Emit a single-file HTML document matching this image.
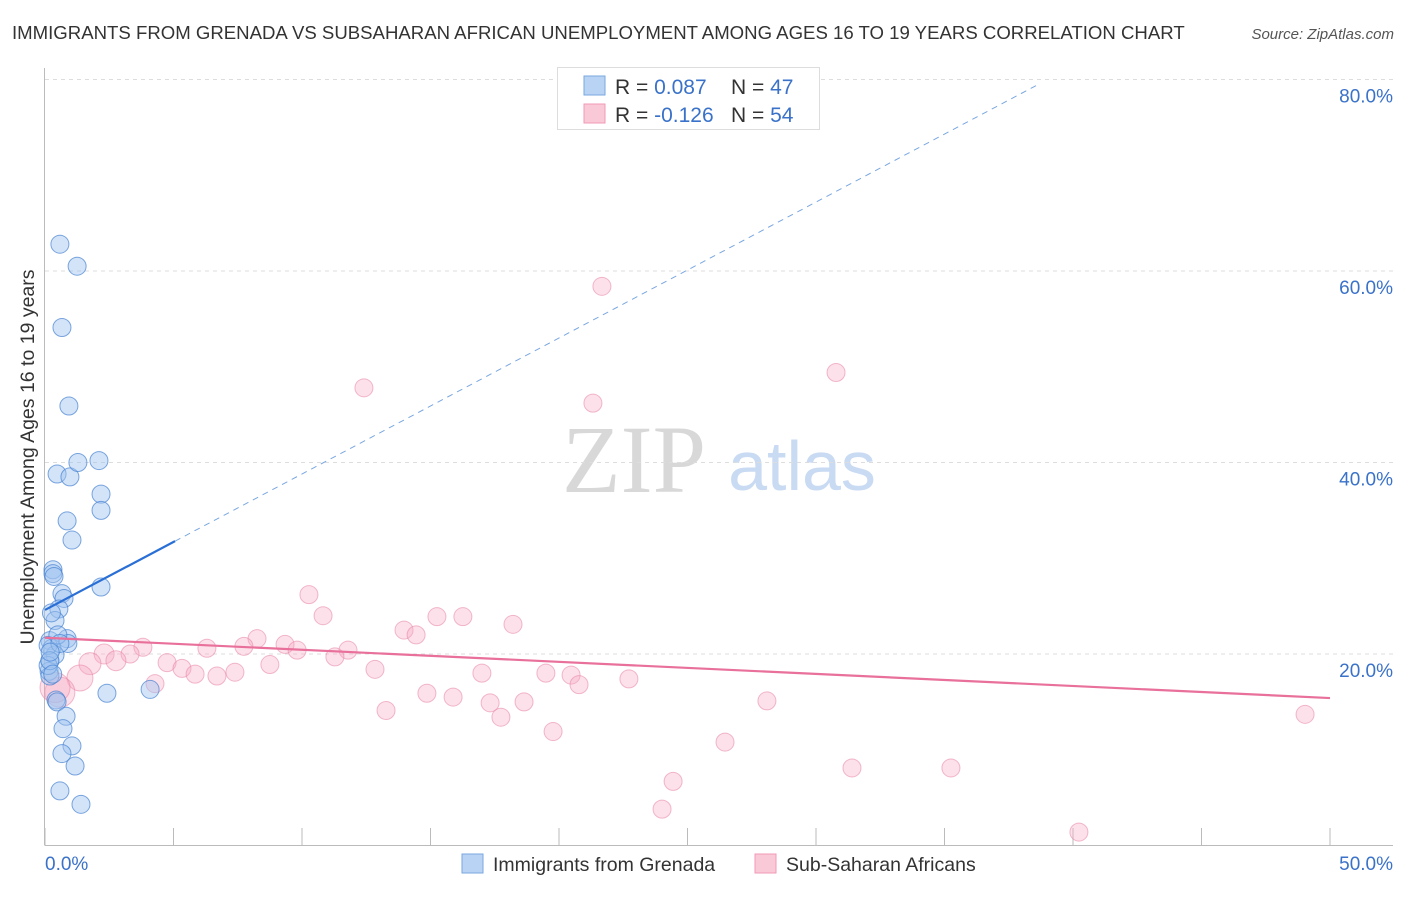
<!DOCTYPE html>
<html><head><meta charset="utf-8"><style>
body{margin:0;background:#fff;font-family:"Liberation Sans",sans-serif;}
svg text{font-family:"Liberation Sans",sans-serif;}
</style></head><body>
<svg id="chart" width="1406" height="892">
<text x="12" y="39" font-size="18.6" fill="#333">IMMIGRANTS FROM GRENADA VS SUBSAHARAN AFRICAN UNEMPLOYMENT AMONG AGES 16 TO 19 YEARS CORRELATION CHART</text>
<text x="1394" y="39" font-size="15" fill="#555" font-style="italic" text-anchor="end">Source: ZipAtlas.com</text>
<text x="634" y="492" font-size="96" fill="#d8d8d8" text-anchor="middle" font-family="Liberation Serif" style="font-family:'Liberation Serif',serif">ZIP</text>
<text x="802" y="490" font-size="70" fill="#c9daf3" text-anchor="middle">atlas</text>
<g id="grid"></g>
<g id="axes"></g>
<g id="marks"></g>
<text transform="translate(34,457) rotate(-90)" font-size="19.5" fill="#333" text-anchor="middle">Unemployment Among Ages 16 to 19 years</text>
<g>
<rect x="557.5" y="67.5" width="262" height="62" fill="#fff" stroke="#ddd"/>
<rect x="584" y="76" width="21" height="19" fill="#b9d3f5" stroke="#7aa7e0"/>
<rect x="584" y="104" width="21" height="19" fill="#fac9d7" stroke="#f09ab4"/>
<text x="615" y="94" font-size="21" fill="#333">R = <tspan fill="#3a72c9">0.087</tspan></text>
<text x="731" y="94" font-size="21" fill="#333">N = <tspan fill="#3a72c9">47</tspan></text>
<text x="615" y="122" font-size="21" fill="#333">R = <tspan fill="#3a72c9">-0.126</tspan></text>
<text x="731" y="122" font-size="21" fill="#333">N = <tspan fill="#3a72c9">54</tspan></text>
</g>
<g>
<rect x="462" y="854" width="21" height="19" fill="#b9d3f5" stroke="#7aa7e0"/>
<text x="493" y="871" font-size="19.5" fill="#333">Immigrants from Grenada</text>
<rect x="755" y="854" width="21" height="19" fill="#fac9d7" stroke="#f09ab4"/>
<text x="786" y="871" font-size="19.5" fill="#333">Sub-Saharan Africans</text>
</g>
</svg>
<script>
const yTicks=[20,40,60,80];
const yTickLabels=["20.0%","40.0%","60.0%","80.0%"];
const xTicks=[0,5,10,15,20,25,30,35,40,45,50];
const blueX=[0.58,1.25,0.66,0.93,0.47,0.97,1.28,2.1,2.18,2.18,0.86,1.05,0.31,0.31,0.35,0.66,0.74,0.54,2.18,0.39,0.86,0.89,0.19,0.27,0.19,0.16,0.19,0.43,0.47,0.82,0.7,1.05,0.66,1.17,0.58,1.4,2.41,4.09,0.39,0.12,0.5,0.58,0.12,0.19,0.3,0.2,0.25];
const blueY=[62.8,60.5,54.1,45.9,38.8,38.5,40.0,40.2,36.7,35.0,33.9,31.9,28.8,28.4,28.1,26.3,25.8,24.7,27.0,23.5,21.6,21.1,21.4,20.6,19.3,18.2,17.7,15.2,15.0,13.5,12.2,10.4,9.6,8.3,5.7,4.3,15.9,16.3,19.9,20.9,22.0,21.1,18.8,19.3,17.9,20.2,24.3];
const pinkX=[21.67,12.41,30.78,21.32,10.27,10.82,15.25,16.26,18.21,13.97,14.44,8.25,9.34,9.81,3.81,6.3,7.74,11.79,11.28,3.31,2.3,2.76,1.75,4.75,5.33,7.39,8.75,12.84,17.0,19.49,20.47,22.72,20.78,5.84,6.69,4.28,1.36,0.58,0.39,14.86,15.88,17.32,18.64,28.09,13.27,17.74,19.77,26.46,31.4,35.25,24.44,24.01,40.23,49.03];
const pinkY=[58.4,47.8,49.4,46.2,26.2,24.0,23.9,23.9,23.1,22.5,22.0,21.6,21.0,20.4,20.7,20.6,20.8,20.4,19.7,20.0,20.0,19.3,19.0,19.1,18.5,18.1,18.9,18.4,18.0,18.0,17.8,17.4,16.8,17.9,17.7,16.9,17.5,16.0,16.5,15.9,15.5,14.9,15.0,15.1,14.1,13.4,11.9,10.8,8.1,8.1,6.7,3.8,1.4,13.7];
const pinkR=[9,9,9,9,9,9,9,9,9,9,9,9,9,9,9,9,9,9,9,9,10,10,11,9,9,9,9,9,9,9,9,9,9,9,9,9,13,15,15,9,9,9,9,9,9,9,9,9,9,9,9,9,9,9];
const blueLine={b0:24.6,slope:1.42,solidTo:5.06,dashTo:38.6};
const pinkLine={b0:21.7,slope:-0.126};
const sx=v=>45+v*25.7, sy=v=>845.5-v*9.575;
const NS="http://www.w3.org/2000/svg";
function mk(tag,attrs,parent){const e=document.createElementNS(NS,tag);for(const k in attrs)e.setAttribute(k,attrs[k]);parent.appendChild(e);return e;}
const grid=document.getElementById('grid'),axes=document.getElementById('axes'),marks=document.getElementById('marks');
yTicks.forEach((t,i)=>{
 const l=mk('line',{x1:45,x2:1393,y1:sy(t),y2:sy(t),stroke:'#ddd','stroke-dasharray':'4,4'},grid);
 
 
 const tx=mk('text',{x:1393,y:sy(t)+23,'font-size':19,fill:'#3a72c9','text-anchor':'end'},axes);
 tx.textContent=yTickLabels[i];
 
 
});
const ax=mk('line',{x1:45,x2:1393,y1:845.5,y2:845.5,stroke:'#bbb'},axes);


const ay=mk('line',{x1:44.5,x2:44.5,y1:68,y2:845.5,stroke:'#bbb'},axes);


xTicks.forEach(t=>{
 const l=mk('line',{x1:sx(t),x2:sx(t),y1:828,y2:845,stroke:'#bbb'},axes);
 
 
});
const xl0=mk('text',{x:45,y:870,'font-size':19,fill:'#3a72c9'},axes);xl0.textContent='0.0%';


const xl1=mk('text',{x:1393,y:870,'font-size':19,fill:'#3a72c9','text-anchor':'end'},axes);xl1.textContent='50.0%';


pinkX.forEach((x,i)=>{
 const c=mk('circle',{cx:sx(x),cy:sy(pinkY[i]),r:pinkR[i],fill:'rgba(246,170,195,0.35)',stroke:'rgba(232,130,165,0.55)','stroke-width':1},marks);
 
 
});
blueX.forEach((x,i)=>{
 const c=mk('circle',{cx:sx(x),cy:sy(blueY[i]),r:9,fill:'rgba(160,195,240,0.45)',stroke:'rgba(70,130,210,0.7)','stroke-width':1},marks);
 
 
});
const bl=mk('line',{x1:sx(0),y1:sy(blueLine.b0),x2:sx(blueLine.solidTo),y2:sy(blueLine.b0+blueLine.slope*blueLine.solidTo),stroke:'#2a6fd6','stroke-width':2.2},marks);


const bd=mk('line',{x1:sx(blueLine.solidTo),y1:sy(blueLine.b0+blueLine.slope*blueLine.solidTo),x2:sx(blueLine.dashTo),y2:sy(blueLine.b0+blueLine.slope*blueLine.dashTo),stroke:'#7aa7e0','stroke-width':1,'stroke-dasharray':'6,5'},marks);


const pl=mk('line',{x1:sx(0),y1:sy(pinkLine.b0),x2:sx(50),y2:sy(pinkLine.b0+pinkLine.slope*50),stroke:'#e8709a','stroke-width':2.2},marks);


</script>
</body></html>
